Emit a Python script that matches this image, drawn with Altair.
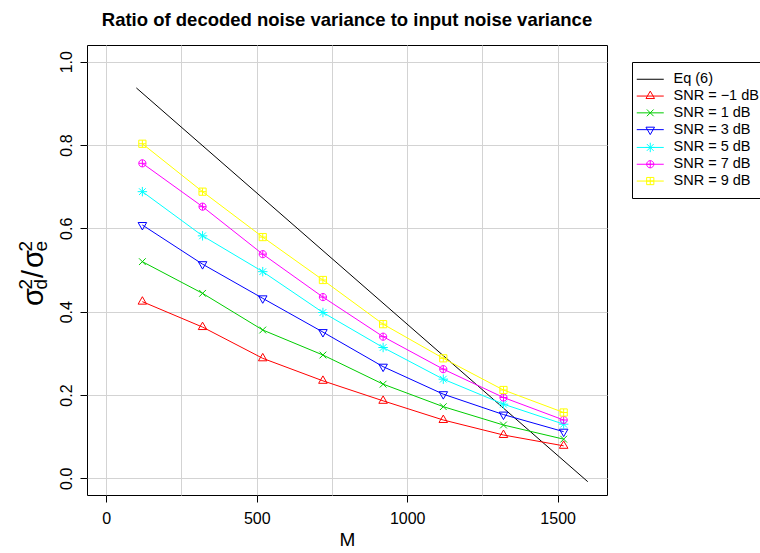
import altair as alt
import pandas as pd

# ---------------- data ----------------
M = [120, 320, 520, 720, 920, 1120, 1320, 1520]
snr_m1 = [0.424, 0.363, 0.288, 0.234, 0.186, 0.140, 0.104, 0.078]
snr_1 = [0.520, 0.444, 0.356, 0.296, 0.226, 0.172, 0.128, 0.094]
snr_3 = [0.608, 0.514, 0.432, 0.351, 0.268, 0.202, 0.153, 0.112]
snr_5 = [0.688, 0.582, 0.496, 0.398, 0.314, 0.238, 0.178, 0.130]
snr_7 = [0.756, 0.652, 0.538, 0.435, 0.340, 0.262, 0.194, 0.140]
snr_9 = [0.803, 0.688, 0.579, 0.476, 0.370, 0.288, 0.212, 0.158]

M_eq = [100, 1600]
eq6 = [0.937, -0.008]

series_names = ["Eq (6)", "SNR = \u22121 dB", "SNR = 1 dB", "SNR = 3 dB",
                "SNR = 5 dB", "SNR = 7 dB", "SNR = 9 dB"]
snr_values = [snr_m1, snr_1, snr_3, snr_5, snr_7, snr_9]

x_ticks = [0, 250, 500, 750, 1000, 1250, 1500]
y_ticks = [0.0, 0.2, 0.4, 0.6, 0.8, 1.0]
title_text = "Ratio of decoded noise variance to input noise variance"
x_title = "M"
y_title_pieces = ["\u03c3", "2", "d", "/", "\u03c3", "2", "e"]

# ---------------- styles ----------------
FONT = "Liberation Sans"
colors = ["#000000", "#FF0000", "#00CD00", "#0000FF", "#00FFFF", "#FF00FF", "#FFFF00"]
marker_paths = [
    "M0,-1.1L0.95,0.55L-0.95,0.55Z",                                   # pch 2
    "M-0.75,-0.75L0.75,0.75M-0.75,0.75L0.75,-0.75",                    # pch 4
    "M0,1.1L0.95,-0.55L-0.95,-0.55Z",                                  # pch 6
    "M-0.75,-0.75L0.75,0.75M-0.75,0.75L0.75,-0.75M-1.05,0L1.05,0M0,-1.05L0,1.05",  # pch 8
    "M-0.8,0A0.8,0.8,0,1,0,0.8,0A0.8,0.8,0,1,0,-0.8,0ZM-0.8,0L0.8,0M0,-0.8L0,0.8",  # pch 10
    "M-0.8,-0.8L0.8,-0.8L0.8,0.8L-0.8,0.8ZM-0.8,0L0.8,0M0,-0.8L0,0.8",  # pch 12
]
legend_line = "M-3,0L3,0"
legend_paths = [legend_line] + [p + legend_line for p in marker_paths]

# ---------------- table ----------------
rows = []
for m, v in zip(M_eq, eq6):
    rows.append({"series": series_names[0], "M": m, "ratio": v})
for name, vals in zip(series_names[1:], snr_values):
    for m, v in zip(M, vals):
        rows.append({"series": name, "M": m, "ratio": v})
df = pd.DataFrame(rows)

x_enc = alt.X(
    "M:Q",
    scale=alt.Scale(domain=[-64, 1664], nice=False, zero=False),
    axis=alt.Axis(
        values=x_ticks, format="d", grid=True, title=x_title,
        labelExpr="datum.value % 500 === 0 ? datum.label : ''",
        tickOpacity={"condition": {"test": "datum.value % 500 === 0", "value": 1}, "value": 0},
        labelPadding=8, titlePadding=4, titleFontSize=19, titleFontWeight="normal",
    ),
)
y_enc = alt.Y(
    "ratio:Q",
    scale=alt.Scale(domain=[-0.04, 1.04], nice=False, zero=False),
    axis=alt.Axis(values=y_ticks, format=".1f", grid=True, title=None,
                  labelAngle=270, labelAlign="center", labelBaseline="bottom",
                  labelPadding=6),
)
color_scale = alt.Scale(domain=series_names, range=colors)

base = alt.Chart(df)

leg = dict(
    orient="none", legendX=545, legendY=17, title=None,
    strokeColor="black", fillColor="white", padding=10,
    symbolSize=81, symbolStrokeWidth=1, symbolOffset=1,
    labelOffset=16, labelFont=FONT, labelFontSize=14.5, labelColor="black",
    rowPadding=1.8, cornerRadius=0,
)
# legend-only layer (no rows), listed first so that its legend settings win
legend_layer = (
    base.transform_filter("false")
    .mark_point(filled=False, size=81, strokeWidth=1, opacity=1)
    .encode(
        x=x_enc, y=y_enc,
        color=alt.Color("series:N", scale=color_scale, legend=alt.Legend(**leg)),
        shape=alt.Shape("series:N", scale=alt.Scale(domain=series_names, range=legend_paths),
                        legend=alt.Legend(**leg)),
    )
)

lines = base.mark_line(strokeWidth=1).encode(
    x=x_enc, y=y_enc,
    color=alt.Color("series:N", scale=color_scale),
    detail="series:N",
)

point_layers = []
for name, path in zip(series_names[1:], marker_paths):
    point_layers.append(
        base.transform_filter(alt.datum.series == name)
        .mark_point(shape=path, filled=False, size=81, strokeWidth=1, opacity=1)
        .encode(x=x_enc, y=y_enc,
                color=alt.Color("series:N", scale=color_scale))
    )

# y title sigma_d^2 / sigma_e^2 built from text pieces (rotated)
piece_pos = [(-44.5, 261, 29), (-55, 244.5, 19), (-40, 244.5, 19), (-44.5, 233, 29),
             (-44.5, 223, 29), (-55, 206.5, 19), (-40, 206.5, 19)]
title_layers = []
for txt, (px, py, fs) in zip(y_title_pieces, piece_pos):
    title_layers.append(
        alt.Chart(pd.DataFrame({"t": [txt]}))
        .mark_text(angle=270, align="left", baseline="alphabetic", font=FONT,
                   fontSize=fs, color="black")
        .encode(x=alt.value(px), y=alt.value(py), text=alt.Text("t:N"))
    )

chart = (
    alt.layer(legend_layer, lines, *point_layers, *title_layers)
    .properties(
        width=520, height=450,
        padding={"left": 87, "top": 45, "right": 153, "bottom": 58},
        autosize=alt.AutoSizeParams(type="none"),
        title=alt.Title(title_text, font=FONT, fontSize=18.5, fontWeight="bold",
                        anchor="middle", frame="group", offset=16, color="black"),
    )
    .configure_view(stroke="black", strokeWidth=1)
    .configure_axis(
        gridColor="#D3D3D3", gridWidth=1, tickColor="black", tickSize=7,
        domain=False, labelFont=FONT, labelFontSize=16, labelColor="black",
        titleFont=FONT, titleColor="black",
    )
)

chart.save("out.html", embed_options={"renderer": "svg", "actions": False})
